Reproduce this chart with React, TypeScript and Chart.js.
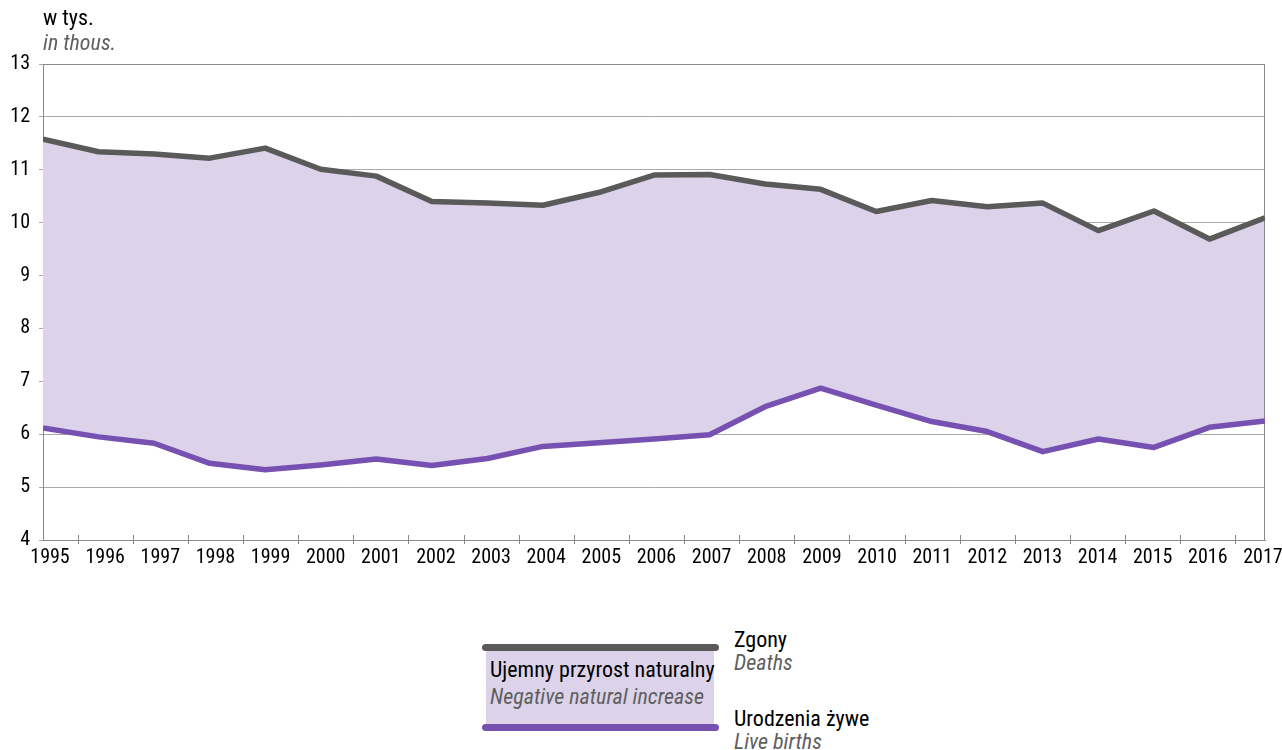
import React, { useEffect, useRef } from "react";
import { Chart, registerables } from "chart.js";

Chart.register(...registerables);

// ---- data ----
const years = [
  1995, 1996, 1997, 1998, 1999, 2000, 2001, 2002, 2003, 2004, 2005, 2006,
  2007, 2008, 2009, 2010, 2011, 2012, 2013, 2014, 2015, 2016, 2017,
];
const deaths = [
  11.58, 11.34, 11.3, 11.22, 11.41, 11.01, 10.88, 10.4, 10.37, 10.33, 10.57,
  10.9, 10.91, 10.73, 10.63, 10.21, 10.42, 10.3, 10.37, 9.85, 10.22, 9.69,
  10.09,
];
const births = [
  6.12, 5.95, 5.83, 5.45, 5.33, 5.42, 5.53, 5.41, 5.54, 5.77, 5.84, 5.91,
  5.99, 6.52, 6.87, 6.55, 6.24, 6.05, 5.67, 5.91, 5.75, 6.13, 6.25,
];
const yMin = 4;
const yMax = 13;

const unitPl = "w tys.";
const unitEn = "in thous.";
const deathsPl = "Zgony";
const deathsEn = "Deaths";
const birthsPl = "Urodzenia żywe";
const birthsEn = "Live births";
const areaPl = "Ujemny przyrost naturalny";
const areaEn = "Negative natural increase";

// ---- style ----
const FONT = "'Liberation Sans Narrow', 'Roboto Condensed', Roboto, sans-serif";
const FONT_SIZE = 22;
const TICK_FONT_SIZE = 20;
const DEATHS_COLOR = "#5a5a5a";
const BIRTHS_COLOR = "#7751b1";
const FILL_COLOR = "#dcd3ea";
const GRID_COLOR = "#a8a8a8";
const BORDER_COLOR = "#8a8a8a";
const ITALIC_COLOR = "#5f5f5f";
// label axis is slightly shifted/compressed relative to the data axis
const LABEL_SHIFT = 0.126;
const LABEL_STEP = 0.9926;

const frame: any = {
  id: "frame",
  beforeDatasetsDraw(chart: any) {
    const { ctx, chartArea } = chart;
    const xs = chart.scales.x;
    ctx.save();
    ctx.strokeStyle = BORDER_COLOR;
    ctx.lineWidth = 1;
    ctx.beginPath();
    ctx.moveTo(chartArea.left, chartArea.top + 0.5);
    ctx.lineTo(chartArea.right - 0.5, chartArea.top + 0.5);
    ctx.lineTo(chartArea.right - 0.5, chartArea.bottom);
    ctx.stroke();
    // tick marks between year labels
    ctx.beginPath();
    for (let i = 0; i < years.length - 1; i++) {
      const v = years[0] + LABEL_SHIFT + (i + 0.5) * LABEL_STEP;
      const px = Math.round(xs.getPixelForValue(v)) + 0.5;
      ctx.moveTo(px, chartArea.bottom - 5);
      ctx.lineTo(px, chartArea.bottom + 4);
    }
    ctx.stroke();
    ctx.restore();
  },
};

function ChartView() {
  const ref = useRef<HTMLCanvasElement | null>(null);
  useEffect(() => {
    if (!ref.current) return;
    const chart = new Chart(ref.current, {
      type: "line",
      data: {
        datasets: [
          {
            label: deathsPl,
            data: years.map((x, i) => ({ x, y: deaths[i] })),
            borderColor: DEATHS_COLOR,
            backgroundColor: FILL_COLOR,
            borderWidth: 5.5,
            pointRadius: 0,
            tension: 0,
            fill: "+1",
            borderJoinStyle: "round",
          },
          {
            label: birthsPl,
            data: years.map((x, i) => ({ x, y: births[i] })),
            borderColor: BIRTHS_COLOR,
            borderWidth: 5.5,
            pointRadius: 0,
            tension: 0,
            fill: false,
            borderJoinStyle: "round",
          },
        ],
      },
      options: {
        responsive: false,
        animation: false,
        layout: { padding: { top: 64, right: 17, left: 0, bottom: 0 } },
        plugins: {
          legend: { display: false },
          tooltip: { enabled: false },
          filler: { drawTime: "beforeDatasetsDraw" },
        },
        scales: {
          x: {
            type: "linear",
            min: years[0],
            max: years[years.length - 1],
            bounds: "data",
            grid: { display: false, drawTicks: false },
            border: { display: true, color: BORDER_COLOR, width: 1 },
            afterBuildTicks: (scale: any) => {
              scale.ticks = years.map((_, i) => ({
                value: years[0] + LABEL_SHIFT + i * LABEL_STEP,
              }));
            },
            afterFit: (scale: any) => {
              scale.height = 40;
              scale.paddingLeft = 0;
              scale.paddingRight = 0;
            },
            ticks: {
              autoSkip: false,
              maxRotation: 0,
              minRotation: 0,
              padding: 6,
              color: "#000",
              font: { family: FONT, size: TICK_FONT_SIZE },
              callback: (_v: any, i: number) => String(years[i]),
            },
          },
          y: {
            min: yMin,
            max: yMax,
            grid: { color: GRID_COLOR, lineWidth: 1, tickLength: 4 },
            border: { display: true, color: BORDER_COLOR, width: 1 },
            afterFit: (scale: any) => {
              scale.width = 43;
            },
            ticks: {
              stepSize: 1,
              padding: 9,
              color: "#000",
              font: { family: FONT, size: TICK_FONT_SIZE },
            },
          },
        },
      },
      plugins: [frame],
    } as any);
    return () => chart.destroy();
  }, []);
  return <canvas ref={ref} width={1282} height={580} style={{ display: "block" }} />;
}

const txt = (
  text: string,
  left: number,
  center: number,
  italic = false
): React.ReactElement => (
  <div
    style={{
      position: "absolute",
      left,
      top: center - 12,
      lineHeight: "24px",
      fontFamily: FONT,
      fontSize: FONT_SIZE,
      whiteSpace: "nowrap",
      fontStyle: italic ? "italic" : "normal",
      color: italic ? ITALIC_COLOR : "#000",
    }}
  >
    {text}
  </div>
);

export default function App() {
  return (
    <div
      style={{
        position: "absolute",
        left: 0,
        top: 0,
        width: 1282,
        height: 750,
        background: "#fff",
        overflow: "hidden",
      }}
    >
      <ChartView />
      {txt(unitPl, 43, 18)}
      {txt(unitEn, 43, 43, true)}
      {/* legend */}
      <div
        style={{
          position: "absolute",
          left: 486,
          top: 650,
          width: 228,
          height: 76,
          background: FILL_COLOR,
        }}
      />
      <div
        style={{
          position: "absolute",
          left: 482,
          top: 644,
          width: 237,
          height: 7,
          borderRadius: 4,
          background: DEATHS_COLOR,
        }}
      />
      <div
        style={{
          position: "absolute",
          left: 482,
          top: 724,
          width: 237,
          height: 7,
          borderRadius: 4,
          background: BIRTHS_COLOR,
        }}
      />
      {txt(areaPl, 490, 670)}
      {txt(areaEn, 490, 697, true)}
      {txt(deathsPl, 734, 640)}
      {txt(deathsEn, 734, 663, true)}
      {txt(birthsPl, 734, 719)}
      {txt(birthsEn, 734, 742, true)}
    </div>
  );
}
